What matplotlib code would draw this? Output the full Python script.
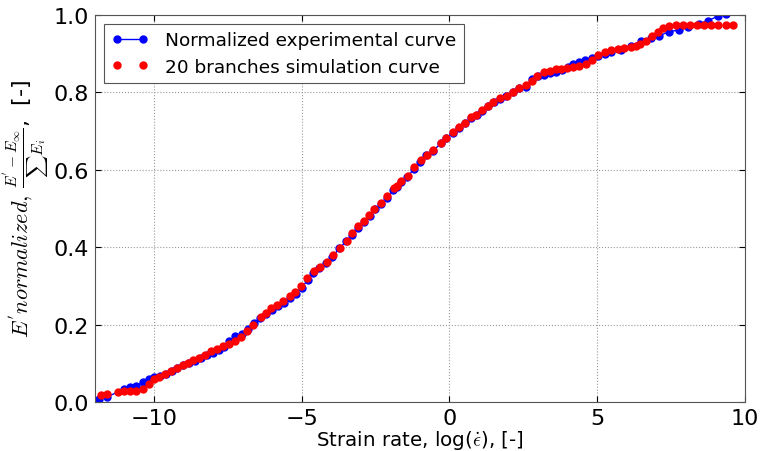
import matplotlib
matplotlib.use("Agg")
import matplotlib.pyplot as plt

plt.rcParams['mathtext.fontset'] = 'cm'
plt.rcParams['font.family'] = ['DejaVu Sans']

# experimental curve (normalized)
exp_x = [-11.86, -11.6, -11.0, -10.8, -10.6, -10.37, -10.17, -10.0, -9.8, -9.6,
         -9.4, -9.2, -9.0, -8.8, -8.6, -8.4, -8.2, -8.0, -7.8, -7.62,
         -7.45, -7.26, -7.02, -6.82, -6.62, -6.4, -6.2, -6.0, -5.8, -5.6,
         -5.4, -5.2, -5.0, -4.8, -4.6, -4.4, -4.17, -3.96, -3.72, -3.5,
         -3.3, -3.1, -2.9, -2.7, -2.52, -2.3, -2.1, -1.9, -1.78, -1.62,
         -1.42, -1.2, -0.98, -0.78, -0.55, -0.3, -0.1, 0.12, 0.32, 0.53,
         0.73, 0.92, 1.12, 1.3, 1.5, 1.7, 1.92, 2.14, 2.36, 2.58,
         2.81, 3.0, 3.21, 3.41, 3.61, 3.81, 4.0, 4.18, 4.38, 4.58,
         4.82, 5.02, 5.25, 5.48, 5.82, 6.15, 6.49, 6.82, 7.1, 7.42,
         7.76, 8.09, 8.43, 8.76, 9.1, 9.37]
exp_y = [0.008, 0.013, 0.034, 0.04, 0.042, 0.052, 0.06, 0.064, 0.068, 0.074,
         0.081, 0.088, 0.095, 0.1, 0.107, 0.113, 0.121, 0.128, 0.135, 0.143,
         0.157, 0.17, 0.175, 0.19, 0.205, 0.217, 0.227, 0.238, 0.248, 0.257,
         0.268, 0.28, 0.295, 0.315, 0.333, 0.347, 0.36, 0.376, 0.397, 0.415,
         0.432, 0.45, 0.466, 0.481, 0.498, 0.512, 0.528, 0.547, 0.556, 0.568,
         0.582, 0.602, 0.621, 0.637, 0.648, 0.668, 0.681, 0.696, 0.709, 0.72,
         0.733, 0.742, 0.752, 0.764, 0.775, 0.783, 0.79, 0.8, 0.81, 0.814,
         0.835, 0.843, 0.845, 0.85, 0.853, 0.858, 0.866, 0.874, 0.879, 0.884,
         0.889, 0.894, 0.9, 0.905, 0.91, 0.92, 0.933, 0.94, 0.946, 0.956,
         0.961, 0.969, 0.977, 0.985, 0.997, 1.003]

# 20 branches simulation
sim_x = [-11.8, -11.6, -11.2, -11.0, -10.8, -10.6, -10.37, -10.17, -10.0, -9.82,
         -9.62, -9.42, -9.23, -9.03, -8.83, -8.66, -8.46, -8.26, -8.06, -7.86,
         -7.66, -7.46, -7.26, -7.06, -6.86, -6.66, -6.39, -6.22, -6.02, -5.82,
         -5.62, -5.38, -5.22, -5.02, -4.82, -4.58, -4.38, -4.15, -3.95, -3.71,
         -3.48, -3.28, -3.08, -2.88, -2.71, -2.54, -2.31, -2.11, -1.87, -1.77,
         -1.64, -1.4, -1.2, -0.97, -0.77, -0.54, -0.3, -0.1, 0.13, 0.33,
         0.54, 0.74, 0.9, 1.1, 1.3, 1.47, 1.71, 1.94, 2.14, 2.34,
         2.58, 2.81, 2.98, 3.21, 3.41, 3.61, 3.78, 3.98, 4.18, 4.38,
         4.62, 4.82, 5.02, 5.28, 5.48, 5.69, 5.92, 6.15, 6.32, 6.45,
         6.65, 6.86, 7.06, 7.22, 7.42, 7.66, 7.9, 8.14, 8.38, 8.62,
         8.86, 9.1, 9.35, 9.6]
sim_y = [0.018, 0.022, 0.025, 0.028, 0.03, 0.03, 0.035, 0.048, 0.06, 0.066,
         0.072, 0.08, 0.088, 0.096, 0.102, 0.108, 0.115, 0.123, 0.131, 0.137,
         0.144, 0.15, 0.157, 0.168, 0.183, 0.199, 0.219, 0.229, 0.242, 0.25,
         0.26, 0.273, 0.284, 0.299, 0.32, 0.338, 0.35, 0.363, 0.379, 0.399,
         0.417, 0.436, 0.454, 0.469, 0.482, 0.5, 0.513, 0.531, 0.552, 0.559,
         0.57, 0.585, 0.606, 0.624, 0.639, 0.65, 0.67, 0.683, 0.698, 0.711,
         0.722, 0.735, 0.742, 0.753, 0.765, 0.776, 0.784, 0.791, 0.802, 0.812,
         0.82, 0.83, 0.843, 0.853, 0.856, 0.861, 0.861, 0.863, 0.866, 0.869,
         0.874, 0.884, 0.897, 0.905, 0.91, 0.912, 0.915, 0.917, 0.92, 0.925,
         0.933, 0.946, 0.956, 0.966, 0.972, 0.974, 0.975, 0.975, 0.975, 0.975,
         0.975, 0.975, 0.975, 0.975]

fig = plt.figure(figsize=(7.64, 4.52), dpi=100)
ax = fig.add_axes([0.124, 0.108, 0.851, 0.857])

ax.plot(exp_x, exp_y, "o-", color="blue", mec="blue", ms=5, lw=1,
        label="Normalized experimental curve")
ax.plot(sim_x, sim_y, "o", color="red", mec="red", ms=5,
        label="20 branches simulation curve")

ax.set_xlim(-12, 10)
ax.set_ylim(0, 1)
ax.set_xticks([-10, -5, 0, 5, 10])
ax.set_yticks([0.0, 0.2, 0.4, 0.6, 0.8, 1.0])
ax.grid(True, linestyle=":", color="#999999", lw=0.8)
ax.tick_params(direction="in", top=True, right=True, labelsize=16, length=4, pad=4)
for s in ax.spines.values():
    s.set_color("#555555")

ax.set_xlabel(r"Strain rate, log($\dot{\epsilon}$), [-]", fontsize=14.3, labelpad=0)
ax.set_ylabel(r"$E^{'}normalized,\,\frac{E^{'}-E_{\infty}}{\sum E_i}$,  [-]", fontsize=16,
              labelpad=2)

leg = ax.legend(loc="upper left", numpoints=2, fontsize=13.3, fancybox=False,
                framealpha=1, edgecolor="#555555", borderaxespad=0.5,
                handletextpad=0.9, labelspacing=0.45)
leg.get_frame().set_linewidth(0.8)

fig.savefig("out.png", dpi=100)
